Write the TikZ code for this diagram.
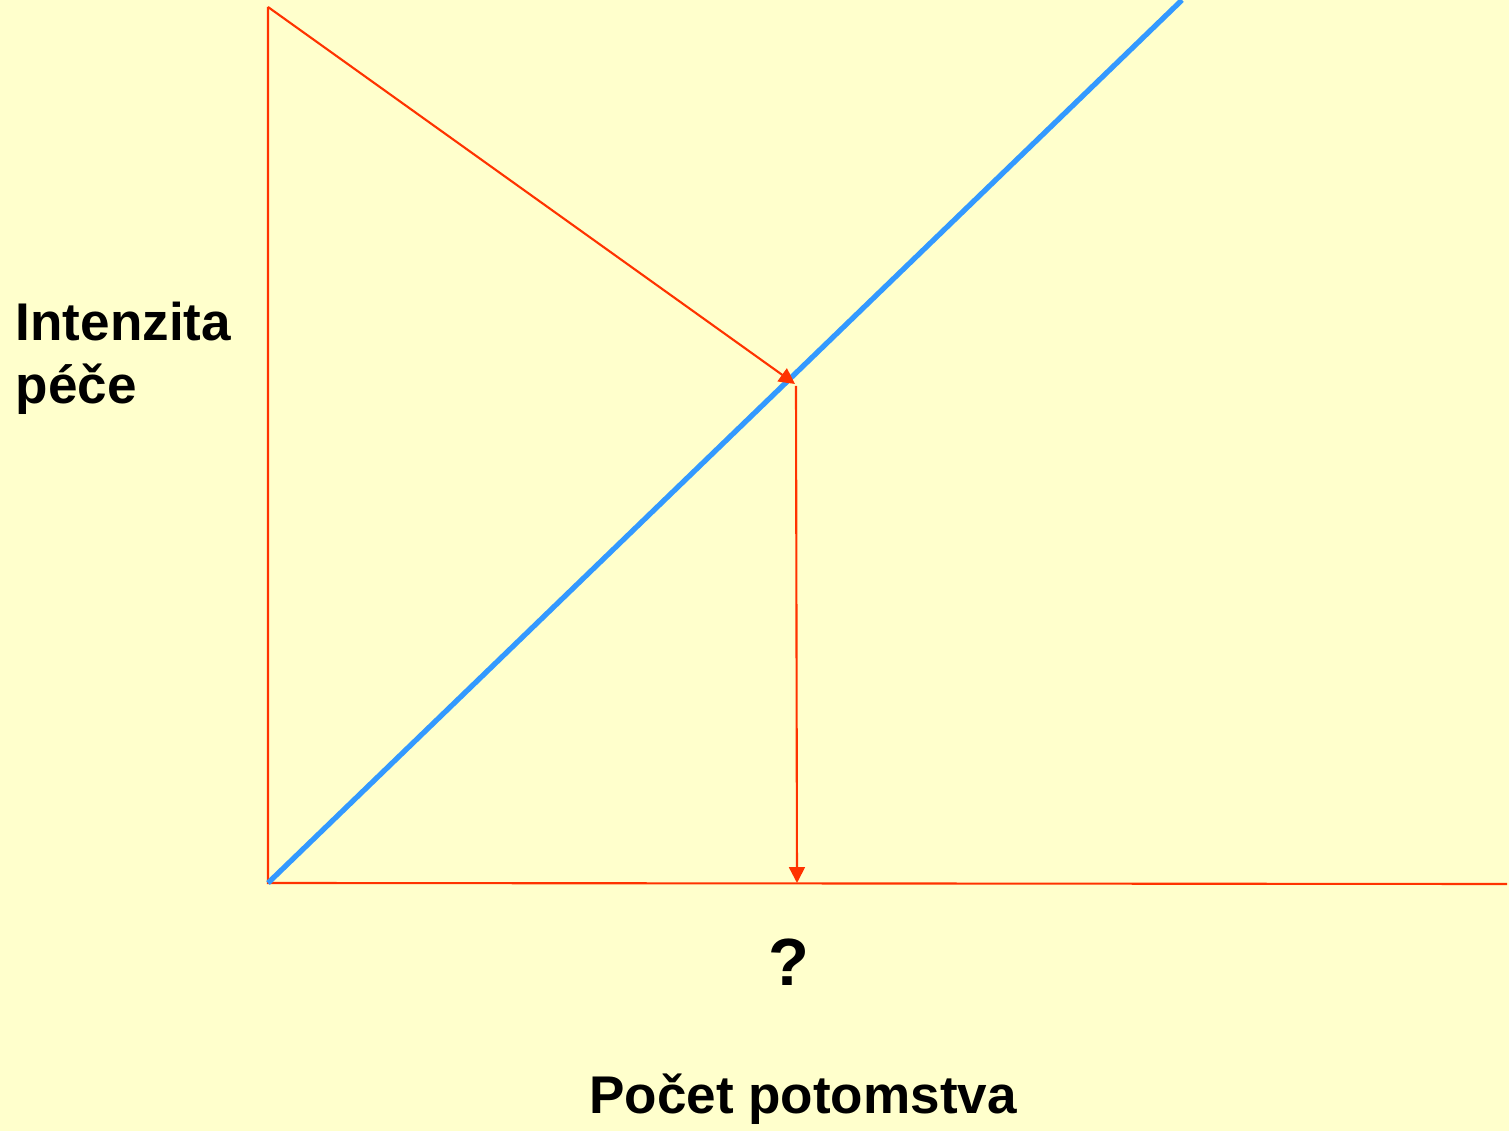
\documentclass[tikz,border=0pt]{standalone}
\usepackage{fontspec}
\setmainfont{Liberation Sans}
\usetikzlibrary{arrows.meta, positioning}
\definecolor{bgyellow}{RGB}{255, 255, 204}
\definecolor{axisred}{RGB}{255, 51, 0}
\definecolor{lineblue}{RGB}{51, 153, 255}

\begin{document}
\begin{tikzpicture}[
    >={Triangle[length=4.5pt, width=4.5pt]},
    axis/.style={color=axisred, line width=0.6pt},
    arr/.style={->, color=axisred, line width=0.6pt},
    blue line/.style={color=lineblue, line width=1.5pt},
    lbl/.style={font=\fontsize{15.1}{18}\selectfont\bfseries, inner sep=0pt},
]

% --- Background ---
\fill[bgyellow] (0,0) rectangle (15.09,11.31);
\useasboundingbox (0,0) rectangle (15.09,11.31);
\clip (0,0) rectangle (15.09,11.31);

% --- Key points ---
\coordinate (origin) at (2.68,2.48);
\coordinate (ytop) at (2.68,11.24);
\coordinate (xend) at (15.07,2.47);
\coordinate (bluetop) at (11.82,11.31);
\coordinate (meet) at (7.95,7.47);
\coordinate (meetlow) at (7.96,7.45);
\coordinate (xfoot) at (7.97,2.48);

% --- Axes ---
\draw[axis] (ytop) -- (origin) -- (xend);

% --- Blue line ---
\draw[blue line] (origin) -- (bluetop);

% --- Arrows ---
\draw[arr] (ytop) -- (meet);
\draw[arr] (meetlow) -- (xfoot);

% --- Labels ---
\node[lbl, anchor=base west, align=left] (ylabel) at (0.15,7.27)
      {Intenzita\\péče};
\node[lbl, anchor=base, font=\fontsize{19}{22}\selectfont\bfseries]
      (qmark) at (7.89,1.45) {?};
\node[lbl, anchor=base] (xlabel) at (8.03,0.18) {Počet potomstva};

\end{tikzpicture}
\end{document}
